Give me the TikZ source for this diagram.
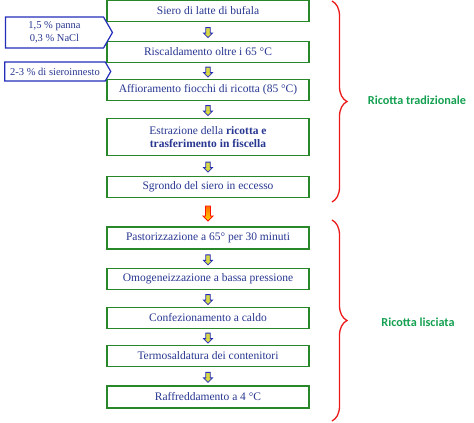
\documentclass[tikz,border=0pt]{standalone}
\usepackage{fontspec}
\setmainfont{Liberation Serif}
\newfontfamily\sidefont{Carlito}
\usetikzlibrary{positioning,shapes,shapes.arrows,shapes.symbols,decorations.pathreplacing}
\definecolor{boxgreen}{RGB}{40,135,40}
\definecolor{txtblue}{RGB}{40,55,145}
\definecolor{arrblue}{RGB}{35,45,185}
\definecolor{arryellow}{RGB}{215,215,70}
\definecolor{lblgreen}{RGB}{20,160,80}
\definecolor{bracered}{RGB}{235,25,25}

\begin{document}
\begin{tikzpicture}[x=1pt,y=1pt]
                        \tikzstyle{every node}=[inner sep=0]
                        \tikzstyle{stepbox}=[draw=boxgreen,line width=1.4,fill=white,minimum width=202,text=txtblue,font=\fontsize{11.5}{13.5}\selectfont,align=center]
                        \tikzstyle{flowarrow}=[single arrow,shape border rotate=270,draw=arrblue,fill=arryellow,line width=0.8,minimum height=10,minimum width=9,single arrow head extend=2.2,inner sep=1.8]
                        \tikzstyle{hotarrow}=[flowarrow,draw=red!85!orange,top color=orange!85!red,bottom color=yellow!70!orange,minimum height=15,minimum width=10]
                        \tikzstyle{addin}=[signal,signal to=east,signal pointer angle=120,draw=arrblue,line width=1.2,fill=white,text=txtblue,font=\fontsize{10.5}{13}\selectfont,align=center]
                        \tikzstyle{bracestyle}=[draw=bracered,line width=1.3,decorate,decoration={brace,amplitude=15}]
                        \tikzstyle{side}=[text=lblgreen,font=\sidefont\bfseries\fontsize{12.2}{14}\selectfont]
                        \useasboundingbox (0,0) rectangle (474,-423);
                        {
                            % fasi del processo
                            \foreach \y/\h/\txt [count=\i] in {11/21/{Siero di latte di bufala},
                                52/21/{Riscaldamento oltre i 65 °C},
                                90/21/{Affioramento fiocchi di ricotta (85 °C)},
                                137/37/{Estrazione della \textbf{ricotta e}\\\textbf{trasferimento in fiscella}},
                                187/21/{Sgrondo del siero in eccesso},
                                238/22/{Pastorizzazione a 65° per 30 minuti},
                                279/21/{Omogeneizzazione a bassa pressione},
                                318/21/{Confezionamento a caldo},
                                356/21/{Termosaldatura dei contenitori},
                                397/22/{Raffreddamento a 4 °C}} {
                                \node[stepbox,minimum height=\h] (b\i) at (208,-\y) {\txt};
                            }
                            \foreach \a/\b in {1/2,2/3,3/4,4/5,6/7,7/8,8/9,9/10} {
                                \path (b\a) -- (b\b) node[flowarrow,midway] {};
                            }
                            \path (b5) -- (b6) node[hotarrow,midway] {};

                            % aggiunte
                            \node[addin,minimum width=107,minimum height=31] (panna) at (54.5,-32.5) {1,5 \% panna\\0,3 \% NaCl};
                            \node[addin,minimum width=106,minimum height=19] (innesto) at (55,-71.5) {2-3 \% di sieroinnesto};

                            % parentesi
                            \coordinate (t1) at (332,-1);
                            \coordinate (t2) at (332,-202);
                            \coordinate (l1) at (332,-220);
                            \coordinate (l2) at (332,-421);
                            \draw[bracestyle] (t1) -- (t2);
                            \draw[bracestyle] (l1) -- (l2);
                            \node[side] (trad) at (417,-100) {Ricotta tradizionale};
                            \node[side] (lisc) at (418,-322) {Ricotta lisciata};
                        }
                    \end{tikzpicture}
\end{document}
